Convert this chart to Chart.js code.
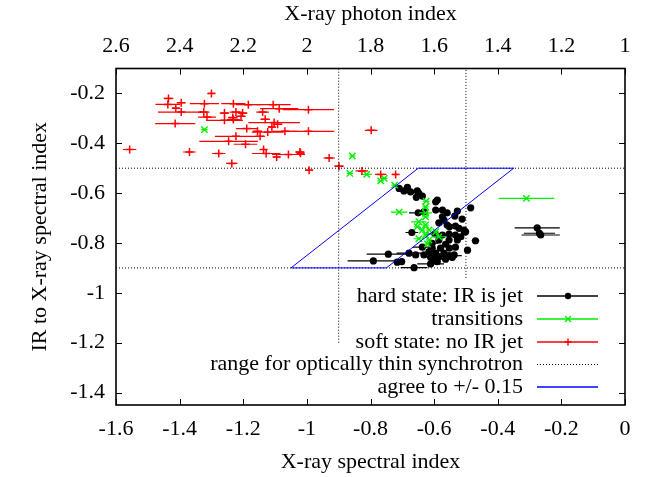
<!DOCTYPE html>
<html>
<head>
<meta charset="utf-8">
<script src="https://cdn.jsdelivr.net/npm/chart.js@4/dist/chart.umd.min.js"></script>
<style>
html,body{margin:0;padding:0;background:#fff;}
#wrap{width:650px;height:477px;position:relative;}
</style>
</head>
<body>
<div id="wrap"><canvas id="c" width="650" height="477"></canvas></div>
<script>
// ---------- data ----------
// hard state: IR is jet (black, filled circles)
const hardX = [-0.71,-0.684,-0.695,-0.674,-0.653,-0.648,-0.656,-0.637,-0.59,-0.595,
  -0.65,-0.632,-0.595,-0.574,-0.559,-0.527,-0.485,-0.574,-0.569,-0.535,
  -0.512,-0.585,-0.559,-0.552,-0.533,-0.522,-0.506,-0.501,-0.597,-0.574,
  -0.553,-0.533,-0.516,-0.527,-0.47,-0.553,-0.585,-0.606,-0.564,-0.533,
  -0.552,-0.58,-0.606,-0.637,-0.658,-0.632,-0.616,-0.595,-0.569,-0.553,
  -0.537,-0.585,-0.611,-0.6,-0.564,-0.543,-0.679,-0.744,-0.791,-0.716,
  -0.702,-0.663,-0.611,-0.59,-0.67,-0.505,-0.495,-0.276,-0.269,-0.265];
const hardY = [-0.581,-0.577,-0.591,-0.595,-0.591,-0.601,-0.617,-0.612,-0.628,-0.635,
  -0.679,-0.675,-0.668,-0.668,-0.679,-0.672,-0.659,-0.695,-0.708,-0.692,
  -0.704,-0.719,-0.728,-0.735,-0.732,-0.741,-0.748,-0.755,-0.764,-0.768,
  -0.764,-0.768,-0.775,-0.788,-0.791,-0.788,-0.788,-0.801,-0.805,-0.817,
  -0.821,-0.821,-0.821,-0.817,-0.848,-0.848,-0.835,-0.841,-0.841,-0.851,
  -0.848,-0.855,-0.858,-0.868,-0.865,-0.858,-0.841,-0.845,-0.872,-0.877,
  -0.875,-0.899,-0.884,-0.875,-0.758,-0.756,-0.829,-0.739,-0.761,-0.768];
const hardXErr = [0.01,0.01,0.01,0.01,0.01,0.01,0.01,0.01,0.01,0.01,
  0.029,0.01,0.01,0.01,0.01,0.01,0.01,0.01,0.01,0.01,
  0.01,0.01,0.01,0.01,0.01,0.01,0.01,0.01,0.03,0.01,
  0.01,0.01,0.01,0.01,0.012,0.01,0.01,0.02,0.01,0.01,
  0.01,0.01,0.01,0.03,0.01,0.01,0.01,0.01,0.01,0.04,
  0.01,0.05,0.01,0.01,0.03,0.01,0.039,0.068,0.081,0.01,
  0.01,0.042,0.042,0.01,0.02,0.01,0.01,0.071,0.049,0.06];

// transitions (green, x)
const transX = [-1.322,-0.857,-0.865,-0.812,-0.768,-0.757,-0.724,-0.31,-0.71,-0.625,
  -0.627,-0.627,-0.648,-0.627,-0.653,-0.627,-0.616,-0.637,-0.627,-0.585,
  -0.648,-0.616,-0.621,-0.595];
const transY = [-0.345,-0.451,-0.521,-0.525,-0.551,-0.541,-0.568,-0.621,-0.676,-0.632,
  -0.655,-0.679,-0.715,-0.695,-0.735,-0.728,-0.748,-0.748,-0.768,-0.775,
  -0.783,-0.788,-0.804,-0.755];
const transXErr = [0.01,0.01,0.01,0.016,0.01,0.01,0.01,0.087,0.026,0.01,
  0.01,0.02,0.024,0.01,0.01,0.01,0.01,0.01,0.01,0.021,
  0.017,0.01,0.01,0.01];

// soft state: no IR jet (red, +)
const softX = [-1.30,-1.435,-1.395,-1.437,-1.412,-1.395,-1.322,-1.231,-1.184,-1.106,
  -1.087,-0.995,-1.324,-1.259,-1.223,-1.202,-1.139,-1.314,-1.233,-1.207,
  -1.259,-1.231,-1.131,-1.414,-1.103,-1.092,-1.11,-1.189,-1.155,-1.123,
  -1.069,-0.995,-1.147,-1.223,-1.246,-1.193,-1.557,-1.369,-1.277,-1.136,
  -1.128,-1.095,-1.058,-1.022,-1.02,-0.93,-1.236,-0.993,-0.899,-0.798,
  -0.827,-0.768,-0.721];
const softY = [-0.20,-0.22,-0.237,-0.244,-0.259,-0.275,-0.241,-0.241,-0.245,-0.245,
  -0.261,-0.265,-0.275,-0.279,-0.275,-0.279,-0.275,-0.295,-0.297,-0.292,
  -0.308,-0.305,-0.304,-0.321,-0.317,-0.324,-0.335,-0.341,-0.352,-0.355,
  -0.352,-0.352,-0.372,-0.372,-0.392,-0.404,-0.425,-0.435,-0.441,-0.425,
  -0.441,-0.455,-0.445,-0.435,-0.44,-0.459,-0.481,-0.508,-0.492,-0.348,
  -0.511,-0.525,-0.525];
const softXErr = [0.012,0.015,0.014,0.039,0.012,0.073,0.046,0.038,0.039,0.055,
  0.06,0.08,0.018,0.015,0.02,0.015,0.02,0.028,0.015,0.015,
  0.058,0.02,0.015,0.063,0.081,0.015,0.012,0.034,0.015,0.05,
  0.04,0.081,0.015,0.066,0.092,0.037,0.021,0.02,0.021,0.012,
  0.045,0.012,0.052,0.015,0.012,0.018,0.018,0.012,0.015,0.02,
  0.02,0.018,0.01];

// range for optically thin synchrotron (dotted lines)
const thinVLineX = [-0.9, -0.5];
const thinVLineBottom = [-1.2, -0.94];
const thinHLineY = [-0.5, -0.9];

// agree to +/- 0.15 (blue parallelogram)
const agreeX = [-0.65, -0.35, -0.75, -1.05, -0.65];
const agreeY = [-0.5, -0.5, -0.9, -0.9, -0.5];

// axes
const xMin = -1.6, xMax = 0, yMin = -1.45, yMax = -0.1;
const xTickValues = [-1.6,-1.4,-1.2,-1,-0.8,-0.6,-0.4,-0.2,0];
const x2TickLabels = ['2.6','2.4','2.2','2','1.8','1.6','1.4','1.2','1'];
const yTickValues = [-1.4,-1.2,-1,-0.8,-0.6,-0.4,-0.2];

const legendLabels = ['hard state: IR is jet','transitions','soft state: no IR jet',
  'range for optically thin synchrotron','agree to +/- 0.15'];

// ---------- chart ----------
const FONT = 'Liberation Serif';
const FS = 22;
const RED = '#ff0000', GREEN = '#00ee00', BLUE = '#0000ff', BLACK = '#000000';

function pts(xs, ys){ return xs.map((x,i)=>({x:x, y:ys[i]})); }

const datasets = [
  {label:legendLabels[4], data:pts(agreeX, agreeY), showLine:true, borderColor:BLUE,
   borderWidth:1, pointRadius:0, fill:false, order:1, tension:0},
  {label:'v1', data:[{x:thinVLineX[0],y:thinVLineBottom[0]},{x:thinVLineX[0],y:yMax}],
   showLine:true, borderColor:BLACK, borderWidth:1, borderDash:[1,2], pointRadius:0, order:2},
  {label:'v2', data:[{x:thinVLineX[1],y:thinVLineBottom[1]},{x:thinVLineX[1],y:yMax}],
   showLine:true, borderColor:BLACK, borderWidth:1, borderDash:[1,2], pointRadius:0, order:2},
  {label:'h1', data:[{x:xMin,y:thinHLineY[0]},{x:xMax,y:thinHLineY[0]}],
   showLine:true, borderColor:BLACK, borderWidth:1, borderDash:[1,2], pointRadius:0, order:2},
  {label:'h2', data:[{x:xMin,y:thinHLineY[1]},{x:xMax,y:thinHLineY[1]}],
   showLine:true, borderColor:BLACK, borderWidth:1, borderDash:[1,2], pointRadius:0, order:2},
  {label:legendLabels[2], data:pts(softX, softY), xErr:softXErr, errColor:RED,
   pointStyle:'cross', pointRadius:4, borderColor:RED, backgroundColor:RED, pointBorderWidth:1.5, order:3},
  {label:legendLabels[1], data:pts(transX, transY), xErr:transXErr, errColor:GREEN,
   pointStyle:'crossRot', pointRadius:4.5, borderColor:GREEN, backgroundColor:GREEN, pointBorderWidth:1.4, order:4},
  {label:legendLabels[0], data:pts(hardX, hardY), xErr:hardXErr, errColor:BLACK,
   pointStyle:'circle', pointRadius:3.6, borderColor:BLACK, backgroundColor:BLACK, pointBorderWidth:0, order:5}
];

const errorBarPlugin = {
  id:'errorBars',
  beforeDatasetDraw(chart, args){
    const ds = chart.data.datasets[args.index];
    if (!ds.xErr) return;
    const xs = chart.scales.x, ys = chart.scales.y, ca = chart.chartArea;
    const ctx = chart.ctx;
    ctx.save();
    ctx.beginPath();
    ctx.rect(ca.left, ca.top, ca.right-ca.left, ca.bottom-ca.top);
    ctx.clip();
    ctx.strokeStyle = ds.errColor;
    ctx.lineWidth = 1.2;
    ds.data.forEach((p,i)=>{
      const e = ds.xErr[i];
      const y = ys.getPixelForValue(p.y);
      const x1 = xs.getPixelForValue(p.x - e), x2 = xs.getPixelForValue(p.x + e);
      ctx.beginPath(); ctx.moveTo(x1,y); ctx.lineTo(x2,y); ctx.stroke();
    });
    ctx.restore();
  }
};

const frameAndKeyPlugin = {
  id:'frameKey',
  afterDatasetsDraw(chart){
    const ctx = chart.ctx, ca = chart.chartArea;
    const xs = chart.scales.x, ys = chart.scales.y;
    const TL = 6;
    ctx.save();
    ctx.strokeStyle = BLACK;
    ctx.lineWidth = 1;
    // inward ticks on all four sides
    ctx.beginPath();
    xTickValues.forEach(v=>{
      const px = Math.round(xs.getPixelForValue(v)) + 0.5;
      ctx.moveTo(px, ca.bottom); ctx.lineTo(px, ca.bottom - TL);
      ctx.moveTo(px, ca.top); ctx.lineTo(px, ca.top + TL);
    });
    yTickValues.forEach(v=>{
      const py = Math.round(ys.getPixelForValue(v)) + 0.5;
      ctx.moveTo(ca.left, py); ctx.lineTo(ca.left + TL, py);
      ctx.moveTo(ca.right, py); ctx.lineTo(ca.right - TL, py);
    });
    ctx.stroke();
    // border
    ctx.lineWidth = 1.6;
    ctx.strokeRect(ca.left, ca.top, ca.right - ca.left, ca.bottom - ca.top);

    // key
    const textRight = 523, lineL = 537, lineR = 598, markX = 568;
    const rowY = [296, 319, 342, 364.5, 387];
    ctx.font = FS + 'px "' + FONT + '"';
    ctx.textAlign = 'right';
    ctx.textBaseline = 'middle';
    ctx.fillStyle = BLACK;
    legendLabels.forEach((t,i)=> ctx.fillText(t, textRight, rowY[i]));
    const cols = [BLACK, GREEN, RED, BLACK, BLUE];
    cols.forEach((c,i)=>{
      ctx.beginPath();
      ctx.strokeStyle = c;
      ctx.lineWidth = (i===3) ? 1 : 1.3;
      ctx.setLineDash(i===3 ? [1,2] : []);
      ctx.moveTo(lineL, rowY[i]); ctx.lineTo(lineR, rowY[i]);
      ctx.stroke();
    });
    ctx.setLineDash([]);
    // markers
    ctx.fillStyle = BLACK;
    ctx.beginPath(); ctx.arc(markX, rowY[0], 3.2, 0, Math.PI*2); ctx.fill();
    ctx.strokeStyle = GREEN; ctx.lineWidth = 1.3;
    ctx.beginPath();
    ctx.moveTo(markX-3, rowY[1]-3); ctx.lineTo(markX+3, rowY[1]+3);
    ctx.moveTo(markX-3, rowY[1]+3); ctx.lineTo(markX+3, rowY[1]-3);
    ctx.stroke();
    ctx.strokeStyle = RED; ctx.lineWidth = 1.5;
    ctx.beginPath();
    ctx.moveTo(markX-3.5, rowY[2]); ctx.lineTo(markX+3.5, rowY[2]);
    ctx.moveTo(markX, rowY[2]-3.5); ctx.lineTo(markX, rowY[2]+3.5);
    ctx.stroke();
    ctx.restore();
  }
};

const fmt = v => String(Math.round(v*10)/10);
const tickFont = {family:FONT, size:FS};

new Chart(document.getElementById('c'), {
  type:'scatter',
  data:{datasets:datasets},
  plugins:[errorBarPlugin, frameAndKeyPlugin],
  options:{
    responsive:false,
    animation:false,
    layout:{padding:{left:0, right:25, top:0, bottom:0}},
    plugins:{legend:{display:false}, tooltip:{enabled:false}},
    scales:{
      x:{
        type:'linear', position:'bottom', min:xMin, max:xMax,
        grid:{display:false, drawTicks:false}, border:{display:false},
        afterBuildTicks:s=>{ s.ticks = xTickValues.map(v=>({value:v})); },
        afterFit:s=>{ s.height = 72; },
        ticks:{font:tickFont, color:BLACK, padding:11, maxRotation:0, autoSkip:false, callback:v=>fmt(v)},
        title:{display:true, text:'X-ray spectral index', font:tickFont, color:BLACK, padding:{top:0,bottom:2}}
      },
      x2:{
        type:'linear', position:'top', min:xMin, max:xMax,
        grid:{display:false, drawTicks:false}, border:{display:false},
        afterBuildTicks:s=>{ s.ticks = xTickValues.map(v=>({value:v})); },
        afterFit:s=>{ s.height = 68.5; },
        ticks:{font:tickFont, color:BLACK, padding:9, maxRotation:0, autoSkip:false,
          callback:(v,i)=>x2TickLabels[i]},
        title:{display:true, text:'X-ray photon index', font:tickFont, color:BLACK, padding:{top:1,bottom:0}}
      },
      y:{
        type:'linear', position:'left', min:yMin, max:yMax,
        grid:{display:false, drawTicks:false}, border:{display:false},
        afterBuildTicks:s=>{ s.ticks = yTickValues.map(v=>({value:v})); },
        afterFit:s=>{ s.width = 116; },
        ticks:{font:tickFont, color:BLACK, padding:11, autoSkip:false, callback:v=>fmt(v)},
        title:{display:true, text:'IR to X-ray spectral index', font:tickFont, color:BLACK, padding:{top:27,bottom:0}}
      }
    }
  }
});
</script>
</body>
</html>
